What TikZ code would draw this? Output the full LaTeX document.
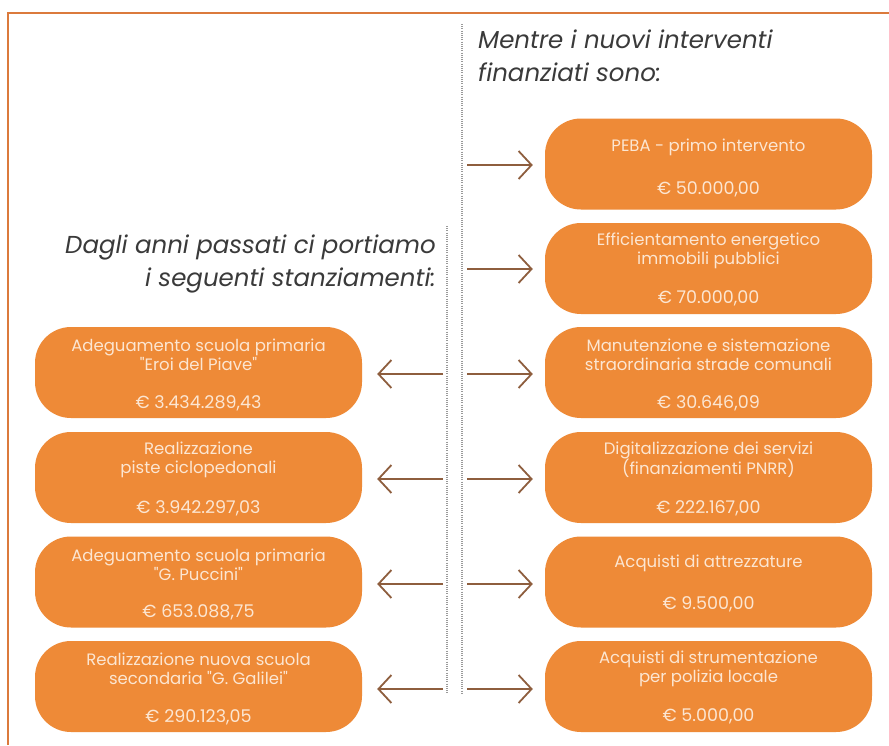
\documentclass[tikz,border=0pt]{standalone}
\usepackage{fontspec}
\setmainfont{Poppins}[Ligatures=TeXOff]
\usetikzlibrary{arrows.meta,calc}
\definecolor{boxorange}{HTML}{EE8A37}
\definecolor{frameorange}{HTML}{DB7A3C}
\definecolor{arrowbrown}{HTML}{8E5E3E}
\definecolor{headgray}{HTML}{3A3A3A}
\definecolor{dotgray}{HTML}{9A9A9A}
\definecolor{boxtext}{HTML}{FCE6D2}
\tikzset{
  pill/.style={fill=boxorange, draw=none, rounded corners=36pt, minimum width=327pt, minimum height=91pt, inner sep=0pt},
  ttl/.style={text=boxtext, align=center, font=\fontsize{16.5}{19}\selectfont, inner sep=0pt},
  amt/.style={text=boxtext, font=\fontsize{17.5}{19}\selectfont, inner sep=0pt},
  head/.style={text=headgray, font=\fontsize{24.5}{33}\selectfont\itshape, inner sep=0pt},
  conn/.style={draw=arrowbrown, line width=2pt, -{Straight Barb[length=13pt,width=28pt,line width=1.8pt]}},
  dotline/.style={draw=dotgray, line width=1.6pt, dash pattern=on 1pt off 1.2pt},
  frame/.style={draw=frameorange, line width=2pt}
}
\begin{document}
\begin{tikzpicture}[x=1pt,y=-1pt]
\useasboundingbox (0,0) rectangle (889,745);
\fill[white] (0,0) rectangle (889,745);
% frame
\draw[frame] (8,745) -- (8,13) -- (889,13);
% dotted separators
\coordinate (lt) at (447,226);
\coordinate (lb) at (447,694);
\coordinate (rt) at (462,24);
\coordinate (rb) at (462,694);
\draw[dotline] (lt) -- (lb);
\draw[dotline] (rt) -- (rb);
% headings
\node[head, anchor=north west, align=left] (hr) at (478,30) {Mentre i nuovi interventi\\finanziati sono:};
\node[head, anchor=north east, align=right] (hl) at (436,235) {Dagli anni passati ci portiamo\\i seguenti stanziamenti:};
% right boxes
\node[pill] (r1) at (708.5,164) {};
\node[pill] (r2) at (708.5,268.5) {};
\node[pill] (r3) at (708.5,372.5) {};
\node[pill] (r4) at (708.5,477.5) {};
\node[pill] (r5) at (708.5,582) {};
\node[pill] (r6) at (708.5,686.5) {};
% left boxes
\node[pill] (l1) at (198.5,372.5) {};
\node[pill] (l2) at (198.5,477.5) {};
\node[pill] (l3) at (198.5,582) {};
\node[pill] (l4) at (198.5,686.5) {};
% right texts
\node[ttl] (r1t) at ($(r1.north)+(0,29)$) {PEBA - primo intervento};
\node[amt] (r1a) at ($(r1.north)+(0,71)$) {€ 50.000,00};
\node[ttl] (r2t) at ($(r2.north)+(0,28)$) {Efficientamento energetico\\immobili pubblici};
\node[amt] (r2a) at ($(r2.north)+(0,76)$) {€ 70.000,00};
\node[ttl] (r3t) at ($(r3.north)+(0,28)$) {Manutenzione e sistemazione\\straordinaria strade comunali};
\node[amt] (r3a) at ($(r3.north)+(0,76)$) {€ 30.646,09};
\node[ttl] (r4t) at ($(r4.north)+(0,28)$) {Digitalizzazione dei servizi\\(finanziamenti PNRR)};
\node[amt] (r4a) at ($(r4.north)+(0,76)$) {€ 222.167,00};
\node[ttl] (r5t) at ($(r5.north)+(0,27)$) {Acquisti di attrezzature};
\node[amt] (r5a) at ($(r5.north)+(0,68)$) {€ 9.500,00};
\node[ttl] (r6t) at ($(r6.north)+(0,28)$) {Acquisti di strumentazione\\per polizia locale};
\node[amt] (r6a) at ($(r6.north)+(0,76)$) {€ 5.000,00};
% left texts
\node[ttl] (l1t) at ($(l1.north)+(0,28)$) {Adeguamento scuola primaria\\"Eroi del Piave"};
\node[amt] (l1a) at ($(l1.north)+(0,76)$) {€ 3.434.289,43};
\node[ttl] (l2t) at ($(l2.north)+(0,28)$) {Realizzazione\\piste ciclopedonali};
\node[amt] (l2a) at ($(l2.north)+(0,76)$) {€ 3.942.297,03};
\node[ttl] (l3t) at ($(l3.north)+(0,28)$) {Adeguamento scuola primaria\\"G. Puccini"};
\node[amt] (l3a) at ($(l3.north)+(0,76)$) {€ 653.088,75};
\node[ttl] (l4t) at ($(l4.north)+(0,28)$) {Realizzazione nuova scuola\\secondaria "G. Galilei"};
\node[amt] (l4a) at ($(l4.north)+(0,76)$) {€ 290.123,05};
% arrow start coordinates
\coordinate (rs1) at (467,165);
\coordinate (rs2) at (467,269);
\coordinate (rs3) at (467,374);
\coordinate (rs4) at (467,479);
\coordinate (rs5) at (467,584);
\coordinate (rs6) at (467,689);
\coordinate (ls1) at (443,374);
\coordinate (ls2) at (443,479);
\coordinate (ls3) at (443,584);
\coordinate (ls4) at (443,689);
% arrows
\draw[conn, shorten >=12pt] (rs1) -- (rs1 -| r1.west);
\draw[conn, shorten >=12pt] (rs2) -- (rs2 -| r2.west);
\draw[conn, shorten >=12pt] (rs3) -- (rs3 -| r3.west);
\draw[conn, shorten >=12pt] (rs4) -- (rs4 -| r4.west);
\draw[conn, shorten >=12pt] (rs5) -- (rs5 -| r5.west);
\draw[conn, shorten >=12pt] (rs6) -- (rs6 -| r6.west);
\draw[conn, shorten >=15pt] (ls1) -- (ls1 -| l1.east);
\draw[conn, shorten >=15pt] (ls2) -- (ls2 -| l2.east);
\draw[conn, shorten >=15pt] (ls3) -- (ls3 -| l3.east);
\draw[conn, shorten >=15pt] (ls4) -- (ls4 -| l4.east);
\end{tikzpicture}
\end{document}
